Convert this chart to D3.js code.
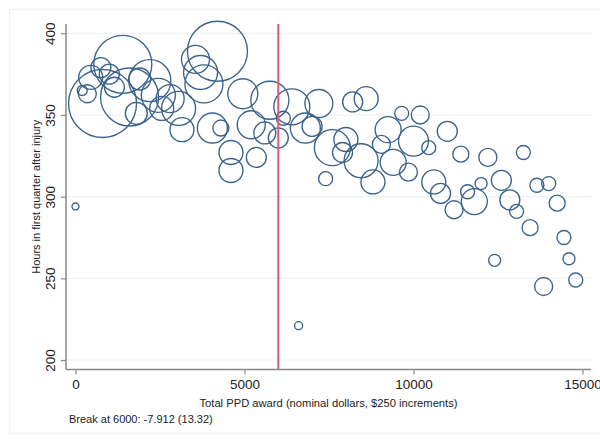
<!DOCTYPE html>
<html>
<head>
<meta charset="utf-8">
<script src="https://cdn.jsdelivr.net/npm/d3@7/dist/d3.min.js"></script>
<style>
  html, body { margin: 0; padding: 0; background: #ffffff; }
  svg { display: block; }
  text { font-family: "Liberation Sans", Arial, Helvetica, sans-serif; fill: #222; }
</style>
</head>
<body>
<svg id="chart" width="600" height="440"></svg>
<script>
// ---- data ----
const awards = [0,200,350,450,800,750,1000,1150,1400,1600,1900,2200,1800,2450,2800,2550,3150,3050,3550,3700,3800,4200,4050,4300,4600,4600,4950,5200,5350,5750,5600,6000,6150,6400,6600,6800,7000,7200,7400,7600,8000,7900,8200,8600,8450,8800,9050,9250,9400,9650,9850,10000,10200,10450,10600,10800,11000,11200,11400,11600,11800,12000,12200,12400,12600,12850,13050,13250,13450,13650,13850,14000,14250,14450,14600,14800];
const hours  = [294,365,363,373,357,379,375,367,381,361,372,371,351,362,360,354,341,354,384,376,369,389,342,342,327,316,363,344,324,359,339,336,348,355,221,342,343,357,311,330,335,327,358,360,322,309,332,341,321,351,315,334,350,330,309,302,340,292,326,303,297,308,324,261,310,298,291,327,281,307,245,308,296,275,262,249];
const weights = [12,25,81,144,1156,100,100,100,841,841,121,441,121,289,196,144,144,289,196,289,361,900,225,64,144,144,225,196,100,361,121,100,49,324,16,225,100,196,49,324,144,100,100,144,289,144,81,169,169,49,81,225,81,49,144,100,100,81,64,49,169,36,81,36,100,100,49,49,64,49,81,49,64,49,36,49];
const xTicks = [0,5000,10000,15000];
const yTicks = [200,250,300,350,400];
const breakPoint = 6000;
const xTitle = "Total PPD award (nominal dollars, $250 increments)";
const yTitle = "Hours in first quarter after injury";
const note = "Break at 6000: -7.912 (13.32)";

const svg = d3.select("#chart");

// faint outer graph-region frame
svg.append("rect").attr("x", 9.5).attr("y", 9.5).attr("width", 620).attr("height", 424)
  .attr("fill", "none").attr("stroke", "#eef2f4").attr("stroke-width", 1);

const x = d3.scaleLinear().domain([0, 15000]).range([75.5, 582.5]);
const y = d3.scaleLinear().domain([200, 400]).range([360, 33.3]);
const r = d3.scaleSqrt().domain([0, 1156]).range([0, 34]);

const plotLeft = 66, plotRight = 591, plotTop = 24, plotBottom = 369.5;

// gridlines
svg.append("g").selectAll("line").data(yTicks).join("line")
  .attr("x1", plotLeft).attr("x2", plotRight)
  .attr("y1", d => y(d)).attr("y2", d => y(d))
  .attr("stroke", "#e9f1f2").attr("stroke-width", 1.2);

// bubbles
const pts = awards.map((a, i) => ({a, h: hours[i], w: weights[i]}));
svg.append("g").selectAll("circle").data(pts).join("circle")
  .attr("cx", d => x(d.a)).attr("cy", d => y(d.h)).attr("r", d => r(d.w))
  .attr("fill", "none").attr("stroke", "#3a628b").attr("stroke-width", 1.35);

// break line
svg.append("line")
  .attr("x1", x(breakPoint)).attr("x2", x(breakPoint))
  .attr("y1", plotTop).attr("y2", plotBottom)
  .attr("stroke", "#dc5873").attr("stroke-width", 2);

// y axis
const yAxis = d3.axisLeft(y).tickValues(yTicks).tickSize(5).tickFormat(d3.format("d"));
const gy = svg.append("g").attr("transform", `translate(${plotLeft},0)`).call(yAxis);
gy.select(".domain").remove();
gy.selectAll(".tick line").attr("stroke", "#888").attr("stroke-width", 1.2);
gy.selectAll(".tick text")
  .attr("x", null).attr("dy", null)
  .attr("transform", "translate(-11.5,0) rotate(-90)")
  .attr("text-anchor", "middle")
  .attr("font-size", 13.5)
  .attr("font-family", "Liberation Sans, Arial, sans-serif")
  .attr("fill", "#222");
svg.append("line").attr("x1", plotLeft).attr("x2", plotLeft).attr("y1", plotTop).attr("y2", plotBottom)
  .attr("stroke", "#888").attr("stroke-width", 1.5);

// x axis
const xAxis = d3.axisBottom(x).tickValues(xTicks).tickSize(5).tickFormat(d3.format("d"));
const gx = svg.append("g").attr("transform", `translate(0,${plotBottom})`).call(xAxis);
gx.select(".domain").remove();
gx.selectAll(".tick line").attr("stroke", "#888").attr("stroke-width", 1.2);
gx.selectAll(".tick text")
  .attr("y", 10).attr("dy", "0.71em")
  .attr("font-size", 13.5)
  .attr("font-family", "Liberation Sans, Arial, sans-serif")
  .attr("fill", "#222");
svg.append("line").attr("x1", plotLeft).attr("x2", plotRight).attr("y1", plotBottom).attr("y2", plotBottom)
  .attr("stroke", "#888").attr("stroke-width", 1.5);

// titles
svg.append("text").attr("x", (plotLeft + plotRight) / 2).attr("y", 406.5)
  .attr("text-anchor", "middle").attr("font-size", 11.2).text(xTitle);
svg.append("text").attr("transform", `translate(39.5,${(plotTop + plotBottom) / 2}) rotate(-90)`)
  .attr("text-anchor", "middle").attr("font-size", 11).text(yTitle);
svg.append("text").attr("x", 69).attr("y", 423)
  .attr("font-size", 11).text(note);
</script>
</body>
</html>
